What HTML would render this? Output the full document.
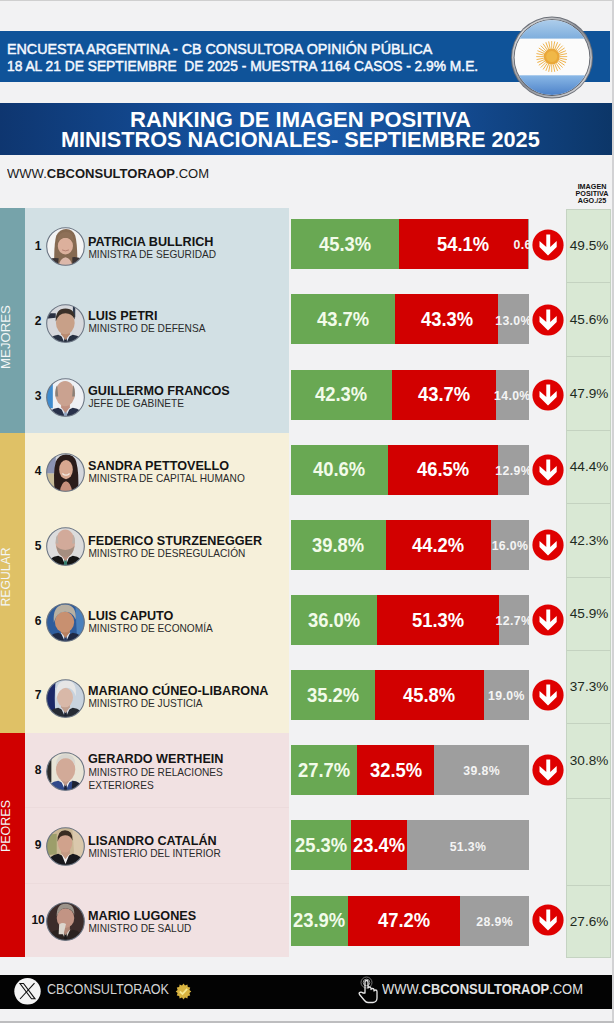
<!DOCTYPE html>
<html><head><meta charset="utf-8"><style>
html,body{margin:0;padding:0;}
body{width:614px;height:1023px;position:relative;overflow:hidden;background:#f2f2f3;font-family:"Liberation Sans",sans-serif;}
.t{position:absolute;line-height:1;white-space:pre;}
.a{position:absolute;}
</style></head><body>
<div class="a" style="left:0;top:0;width:614px;height:1px;background:#cfcfcf"></div>
<div class="a" style="left:612px;top:0;width:2px;height:1023px;background:#d2d2d4"></div>
<div class="a" style="left:0;top:1021px;width:614px;height:2px;background:#bdbdbf"></div>
<div class="a" style="left:0;top:30.5px;width:610px;height:51px;background:#0f5399"></div>
<div class="t" style="left:7.00px;top:41.38px;font-size:15.5px;font-weight:400;color:#f4f8ff;transform:scaleX(0.923);transform-origin:0 0;-webkit-text-stroke:0.5px #f4f8ff;">ENCUESTA ARGENTINA - CB CONSULTORA OPINIÓN PÚBLICA</div>
<div class="t" style="left:7.00px;top:58.10px;font-size:15.0px;font-weight:400;color:#f4f8ff;transform:scaleX(0.919);transform-origin:0 0;-webkit-text-stroke:0.5px #f4f8ff;">18 AL 21 DE SEPTIEMBRE  DE 2025 - MUESTRA 1164 CASOS - 2.9% M.E.</div>
<div class="a" style="left:0;top:103.3px;width:612px;height:51.5px;background:linear-gradient(90deg,#0e3670 0%,#1552a0 38%,#1a5aa8 52%,#134a90 75%,#0c3668 100%)"></div>
<div class="t" style="left:129.70px;top:108.20px;font-size:22.8px;font-weight:700;color:#ffffff;transform:scaleX(0.966);transform-origin:0 0;">RANKING DE IMAGEN POSITIVA</div>
<div class="t" style="left:61.40px;top:128.20px;font-size:22.8px;font-weight:700;color:#ffffff;transform:scaleX(0.952);transform-origin:0 0;">MINISTROS NACIONALES- SEPTIEMBRE 2025</div>
<div class="t" style="left:7.00px;top:167.00px;font-size:13.7px;font-weight:400;color:#1a1a1a;transform:scaleX(0.951);transform-origin:0 0;">WWW.<b>CBCONSULTORAOP</b>.COM</div>
<div class="t" style="left:592.00px;transform:translateX(-50%);top:182.91px;font-size:7.2px;font-weight:700;color:#111;">IMAGEN</div>
<div class="t" style="left:592.00px;transform:translateX(-50%);top:189.91px;font-size:7.2px;font-weight:700;color:#111;">POSITIVA</div>
<div class="t" style="left:592.00px;transform:translateX(-50%);top:196.91px;font-size:7.2px;font-weight:700;color:#111;">AGO./25</div>
<div class="a" style="left:0;top:208px;width:25px;height:224.5px;background:#76a3aa"></div>
<div class="a" style="left:25px;top:208px;width:263.5px;height:224.5px;background:#d2e0e4"></div>
<div class="t" style="left:5.8px;top:337px;font-size:13.2px;color:#f3f6f6;transform:translate(-50%,-50%) rotate(-90deg);transform-origin:50% 50%;">MEJORES</div>
<div class="a" style="left:0;top:432.5px;width:25px;height:300.0px;background:#dfc166"></div>
<div class="a" style="left:25px;top:432.5px;width:263.5px;height:300.0px;background:#f6f0da"></div>
<div class="t" style="left:5.8px;top:577px;font-size:12.2px;color:#f3f6f6;transform:translate(-50%,-50%) rotate(-90deg);transform-origin:50% 50%;">REGULAR</div>
<div class="a" style="left:0;top:732.5px;width:25px;height:224.70000000000005px;background:#d00000"></div>
<div class="a" style="left:25px;top:732.5px;width:263.5px;height:224.70000000000005px;background:#f1e1e2"></div>
<div class="t" style="left:5.8px;top:826px;font-size:12.5px;color:#f3f6f6;transform:translate(-50%,-50%) rotate(-90deg);transform-origin:50% 50%;">PEORES</div>
<div class="a" style="left:25px;top:806.5px;width:263.5px;height:1px;background:#ecdbdc"></div>
<div class="a" style="left:25px;top:882.5px;width:263.5px;height:1px;background:#ecdbdc"></div>
<div class="a" style="left:566px;top:208.7px;width:45px;height:749.3px;background:#d9e8d4;box-shadow:inset 1px 0 0 #c5d3c2, inset -1px 0 0 #c5d3c2, inset 0 1px 0 #c5d3c2, inset 0 -1px 0 #c5d3c2"></div>
<div class="a" style="left:567px;top:282px;width:43.5px;height:1px;background:#c4d2c0"></div>
<div class="a" style="left:567px;top:356px;width:43.5px;height:1px;background:#c4d2c0"></div>
<div class="a" style="left:567px;top:430px;width:43.5px;height:1px;background:#c4d2c0"></div>
<div class="a" style="left:567px;top:503px;width:43.5px;height:1px;background:#c4d2c0"></div>
<div class="a" style="left:567px;top:577px;width:43.5px;height:1px;background:#c4d2c0"></div>
<div class="a" style="left:567px;top:650px;width:43.5px;height:1px;background:#c4d2c0"></div>
<div class="a" style="left:567px;top:723px;width:43.5px;height:1px;background:#c4d2c0"></div>
<div class="a" style="left:567px;top:797.5px;width:43.5px;height:1px;background:#c4d2c0"></div>
<div class="a" style="left:567px;top:885px;width:43.5px;height:1px;background:#c4d2c0"></div>
<div class="a" style="left:291.0px;top:219.30px;width:107.81px;height:50px;background:#69a853"></div>
<div class="a" style="left:398.81px;top:219.30px;width:128.76px;height:50px;background:#d20000"></div>
<div class="a" style="left:527.57px;top:219.30px;width:1.43px;height:50px;background:#9e9e9e"></div>
<div class="t" style="left:344.91px;transform:translateX(-50%) scaleX(0.93);top:235.04px;font-size:19.8px;font-weight:700;color:#f2fbe9;">45.3%</div>
<div class="t" style="left:463.19px;transform:translateX(-50%) scaleX(0.93);top:235.04px;font-size:19.8px;font-weight:700;color:#ffffff;">54.1%</div>
<div class="t" style="left:528.29px;transform:translateX(-50%);top:239.39px;font-size:12.3px;font-weight:700;color:#f4f4f4;letter-spacing:0.35px;">0.6%</div>
<svg class="a" style="left:532.40px;top:228.50px" width="32" height="32" viewBox="0 0 32 32"><circle cx="16" cy="16" r="15.6" fill="#df0000"/><path d="M14.3 5.6 H18.2 V18 L24.7 12.1 V18 L16 26.5 L7.5 18 V12.1 L14.3 18 Z" fill="#fff"/></svg>
<div class="t" style="left:569.80px;top:239.04px;font-size:13.6px;font-weight:400;color:#1e2a1e;">49.5%</div>
<div class="t" style="left:38.10px;transform:translateX(-50%);top:239.94px;font-size:12.0px;font-weight:700;color:#111;">1</div>
<svg class="a" style="left:45.80px;top:226.60px" width="39" height="39" viewBox="0 0 40 40"><defs><clipPath id="av1"><circle cx="20" cy="20" r="19.3"/></clipPath></defs><g clip-path="url(#av1)"><rect x="-1" y="-1" width="42" height="42" fill="#f4f4f4"/><path d="M8.5 40 Q8 18 10.5 9 Q14 2 20.5 2 Q27.5 2 30 9 Q32.5 18 32 40 Z" fill="#866a52"/><path d="M2 33 Q8 31 13 32 L12 42 L2 42 Z" fill="#3c3434"/><path d="M27 31 Q35 30 40 36 L40 42 L27 42 Z" fill="#3c3434"/><path d="M13 42 Q13.5 32 20 31 Q26.5 32 27 42 Z" fill="#dcb8aa"/><ellipse cx="19.9" cy="19.5" rx="7.8" ry="8.6" fill="#dcb09c"/><path d="M11.5 15 Q12 5 20.5 5 Q28.5 5 28.5 15 Q25 11 20 11 Q15 11 11.5 15 Z" fill="#8e7058"/><path d="M16.5 23.5 Q20 25.5 23.5 23.5" stroke="#b07a6c" stroke-width="0.9" fill="none"/></g><circle cx="20" cy="20" r="19.3" fill="none" stroke="#6a7482" stroke-width="1.1"/></svg>
<div class="t" style="left:88.40px;top:234.50px;font-size:13.0px;font-weight:700;color:#141414;transform:scaleX(0.972);transform-origin:0 0;">PATRICIA BULLRICH</div>
<div class="t" style="left:88.40px;top:249.51px;font-size:10.15px;font-weight:400;color:#2a2a2a;">MINISTRA DE SEGURIDAD</div>
<div class="a" style="left:291.0px;top:294.44px;width:104.01px;height:50px;background:#69a853"></div>
<div class="a" style="left:395.01px;top:294.44px;width:103.05px;height:50px;background:#d20000"></div>
<div class="a" style="left:498.06px;top:294.44px;width:30.94px;height:50px;background:#9e9e9e"></div>
<div class="t" style="left:343.00px;transform:translateX(-50%) scaleX(0.93);top:310.18px;font-size:19.8px;font-weight:700;color:#f2fbe9;">43.7%</div>
<div class="t" style="left:446.53px;transform:translateX(-50%) scaleX(0.93);top:310.18px;font-size:19.8px;font-weight:700;color:#ffffff;">43.3%</div>
<div class="t" style="left:513.53px;transform:translateX(-50%);top:314.53px;font-size:12.3px;font-weight:700;color:#f4f4f4;letter-spacing:0.35px;">13.0%</div>
<svg class="a" style="left:532.40px;top:303.56px" width="32" height="32" viewBox="0 0 32 32"><circle cx="16" cy="16" r="15.6" fill="#df0000"/><path d="M14.3 5.6 H18.2 V18 L24.7 12.1 V18 L16 26.5 L7.5 18 V12.1 L14.3 18 Z" fill="#fff"/></svg>
<div class="t" style="left:569.80px;top:312.69px;font-size:13.6px;font-weight:400;color:#1e2a1e;">45.6%</div>
<div class="t" style="left:38.10px;transform:translateX(-50%);top:314.86px;font-size:12.0px;font-weight:700;color:#111;">2</div>
<svg class="a" style="left:45.80px;top:303.74px" width="39" height="39" viewBox="0 0 40 40"><defs><clipPath id="av2"><circle cx="20" cy="20" r="19.3"/></clipPath></defs><g clip-path="url(#av2)"><rect x="-1" y="-1" width="42" height="42" fill="#d6d8dc"/><path d="M0 9.5 L10 9.5 L10 14 L0 15 Z" fill="#2a3040"/><path d="M27.6 2 L30 2 L30 13.5 L27.6 13.5 Z" fill="#2e3a4c"/><path d="M-1 44 Q1 33 12.5 31.5 L20 35 L27.5 31.5 Q39 33 41 44 Z" fill="#283142"/><path d="M15 31 L20 42 L25 31 L20 34 Z" fill="#e0e3ea"/><path d="M19 34.5 L21 34.5 L22.3 44 L17.7 44 Z" fill="#1e2636"/><path d="M15.5 31 L20 37 L24.5 31 L24.5 27 L15.5 27 Z" fill="#b88a70"/><ellipse cx="19.8" cy="19.5" rx="9.6" ry="11.6" fill="#c8a088"/><path d="M10 18 Q9.5 4.5 20 4.5 Q30 4.5 29.5 16 Q26.5 9.5 20 9.5 Q13 9.5 10 18 Z" fill="#3a3028"/></g><circle cx="20" cy="20" r="19.3" fill="none" stroke="#6a7482" stroke-width="1.1"/></svg>
<div class="t" style="left:88.40px;top:309.44px;font-size:13.0px;font-weight:700;color:#141414;transform:scaleX(0.972);transform-origin:0 0;">LUIS PETRI</div>
<div class="t" style="left:88.40px;top:324.45px;font-size:10.15px;font-weight:400;color:#2a2a2a;">MINISTRO DE DEFENSA</div>
<div class="a" style="left:291.0px;top:369.58px;width:100.67px;height:50px;background:#69a853"></div>
<div class="a" style="left:391.67px;top:369.58px;width:104.01px;height:50px;background:#d20000"></div>
<div class="a" style="left:495.68px;top:369.58px;width:33.32px;height:50px;background:#9e9e9e"></div>
<div class="t" style="left:341.34px;transform:translateX(-50%) scaleX(0.93);top:385.32px;font-size:19.8px;font-weight:700;color:#f2fbe9;">42.3%</div>
<div class="t" style="left:443.68px;transform:translateX(-50%) scaleX(0.93);top:385.32px;font-size:19.8px;font-weight:700;color:#ffffff;">43.7%</div>
<div class="t" style="left:512.34px;transform:translateX(-50%);top:389.67px;font-size:12.3px;font-weight:700;color:#f4f4f4;letter-spacing:0.35px;">14.0%</div>
<svg class="a" style="left:532.40px;top:378.62px" width="32" height="32" viewBox="0 0 32 32"><circle cx="16" cy="16" r="15.6" fill="#df0000"/><path d="M14.3 5.6 H18.2 V18 L24.7 12.1 V18 L16 26.5 L7.5 18 V12.1 L14.3 18 Z" fill="#fff"/></svg>
<div class="t" style="left:569.80px;top:386.69px;font-size:13.6px;font-weight:400;color:#1e2a1e;">47.9%</div>
<div class="t" style="left:38.10px;transform:translateX(-50%);top:389.78px;font-size:12.0px;font-weight:700;color:#111;">3</div>
<svg class="a" style="left:45.80px;top:378.08px" width="39" height="39" viewBox="0 0 40 40"><defs><clipPath id="av3"><circle cx="20" cy="20" r="19.3"/></clipPath></defs><g clip-path="url(#av3)"><rect x="-1" y="-1" width="42" height="42" fill="#eef1f5"/><path d="M-1 5 L7 5 L7 31 L-1 31 Z" fill="#3f8ccf"/><path d="M-1 44 Q1 32 12.5 30.5 L20 34 L27.5 30.5 Q39 32 41 44 Z" fill="#28314a"/><path d="M15 30 L20 41 L25 30 L20 33 Z" fill="#dfe5ee"/><path d="M19 33.5 L21 33.5 L22.3 44 L17.7 44 Z" fill="#8fa3c0"/><path d="M15.5 30 L20 36 L24.5 30 L24.5 26 L15.5 26 Z" fill="#c09080"/><ellipse cx="19.6" cy="16" rx="10.2" ry="13" fill="#caa290"/><path d="M9.6 19 Q9.3 10 11.5 7.5 L12.5 19 Z M29.6 19 Q30 10 27.8 7.5 L26.8 19 Z" fill="#8a8078"/></g><circle cx="20" cy="20" r="19.3" fill="none" stroke="#6a7482" stroke-width="1.1"/></svg>
<div class="t" style="left:88.40px;top:384.38px;font-size:13.0px;font-weight:700;color:#141414;transform:scaleX(0.972);transform-origin:0 0;">GUILLERMO FRANCOS</div>
<div class="t" style="left:88.40px;top:399.39px;font-size:10.15px;font-weight:400;color:#2a2a2a;">JEFE DE GABINETE</div>
<div class="a" style="left:291.0px;top:444.72px;width:96.63px;height:50px;background:#69a853"></div>
<div class="a" style="left:387.63px;top:444.72px;width:110.67px;height:50px;background:#d20000"></div>
<div class="a" style="left:498.30px;top:444.72px;width:30.70px;height:50px;background:#9e9e9e"></div>
<div class="t" style="left:339.31px;transform:translateX(-50%) scaleX(0.93);top:460.46px;font-size:19.8px;font-weight:700;color:#f2fbe9;">40.6%</div>
<div class="t" style="left:442.96px;transform:translateX(-50%) scaleX(0.93);top:460.46px;font-size:19.8px;font-weight:700;color:#ffffff;">46.5%</div>
<div class="t" style="left:513.65px;transform:translateX(-50%);top:464.81px;font-size:12.3px;font-weight:700;color:#f4f4f4;letter-spacing:0.35px;">12.9%</div>
<svg class="a" style="left:532.40px;top:453.68px" width="32" height="32" viewBox="0 0 32 32"><circle cx="16" cy="16" r="15.6" fill="#df0000"/><path d="M14.3 5.6 H18.2 V18 L24.7 12.1 V18 L16 26.5 L7.5 18 V12.1 L14.3 18 Z" fill="#fff"/></svg>
<div class="t" style="left:569.80px;top:460.19px;font-size:13.6px;font-weight:400;color:#1e2a1e;">44.4%</div>
<div class="t" style="left:38.10px;transform:translateX(-50%);top:464.70px;font-size:12.0px;font-weight:700;color:#111;">4</div>
<svg class="a" style="left:45.80px;top:452.92px" width="39" height="39" viewBox="0 0 40 40"><defs><clipPath id="av4"><circle cx="20" cy="20" r="19.3"/></clipPath></defs><g clip-path="url(#av4)"><rect x="-1" y="-1" width="42" height="42" fill="#d3d6dc"/><path d="M-1 2 L10 2 L10 21 L-1 21 Z" fill="#8a92b2"/><path d="M-1 21 L10 21 L10 40 L-1 40 Z" fill="#c8bc98"/><path d="M9 40 Q7 20 10 9 Q13.5 1.5 20.5 1.5 Q29 1.5 31 9 Q34 20 33 40 Z" fill="#2a1c1a"/><path d="M14 42 Q15 30 20.5 29 Q26 30 27 42 Z" fill="#c8907c"/><ellipse cx="20.5" cy="17" rx="7" ry="9.8" fill="#d8a890"/><path d="M16.8 21 Q20.5 24.5 24.2 21" stroke="#f2e8e0" stroke-width="1.3" fill="none"/></g><circle cx="20" cy="20" r="19.3" fill="none" stroke="#6a7482" stroke-width="1.1"/></svg>
<div class="t" style="left:88.40px;top:459.32px;font-size:13.0px;font-weight:700;color:#141414;transform:scaleX(0.972);transform-origin:0 0;">SANDRA PETTOVELLO</div>
<div class="t" style="left:88.40px;top:474.33px;font-size:10.15px;font-weight:400;color:#2a2a2a;">MINISTRA DE CAPITAL HUMANO</div>
<div class="a" style="left:291.0px;top:519.86px;width:94.72px;height:50px;background:#69a853"></div>
<div class="a" style="left:385.72px;top:519.86px;width:105.20px;height:50px;background:#d20000"></div>
<div class="a" style="left:490.92px;top:519.86px;width:38.08px;height:50px;background:#9e9e9e"></div>
<div class="t" style="left:338.36px;transform:translateX(-50%) scaleX(0.93);top:535.60px;font-size:19.8px;font-weight:700;color:#f2fbe9;">39.8%</div>
<div class="t" style="left:438.32px;transform:translateX(-50%) scaleX(0.93);top:535.60px;font-size:19.8px;font-weight:700;color:#ffffff;">44.2%</div>
<div class="t" style="left:509.96px;transform:translateX(-50%);top:539.95px;font-size:12.3px;font-weight:700;color:#f4f4f4;letter-spacing:0.35px;">16.0%</div>
<svg class="a" style="left:532.40px;top:528.74px" width="32" height="32" viewBox="0 0 32 32"><circle cx="16" cy="16" r="15.6" fill="#df0000"/><path d="M14.3 5.6 H18.2 V18 L24.7 12.1 V18 L16 26.5 L7.5 18 V12.1 L14.3 18 Z" fill="#fff"/></svg>
<div class="t" style="left:569.80px;top:533.69px;font-size:13.6px;font-weight:400;color:#1e2a1e;">42.3%</div>
<div class="t" style="left:38.10px;transform:translateX(-50%);top:539.62px;font-size:12.0px;font-weight:700;color:#111;">5</div>
<svg class="a" style="left:45.80px;top:527.36px" width="39" height="39" viewBox="0 0 40 40"><defs><clipPath id="av5"><circle cx="20" cy="20" r="19.3"/></clipPath></defs><g clip-path="url(#av5)"><rect x="-1" y="-1" width="42" height="42" fill="#dcdcdc"/><path d="M-1 44 Q1 31 12.5 29.5 L20 33 L27.5 29.5 Q39 31 41 44 Z" fill="#151515"/><path d="M15.5 29 L20 40 L24.5 29 L20 32 Z" fill="#f0f0f0"/><path d="M19 32.5 L21 32.5 L22.3 44 L17.7 44 Z" fill="#2f7a6a"/><path d="M15.5 29 L20 35 L24.5 29 L24.5 25 L15.5 25 Z" fill="#b89080"/><ellipse cx="19.8" cy="16.5" rx="10" ry="14" fill="#d2aa9a"/><path d="M10.5 19 Q12 31 19.8 31 Q27.6 31 29.3 19 Q26 23.5 19.8 23.5 Q13.6 23.5 10.5 19 Z" fill="#a48e80"/><path d="M10 17 Q9.8 10 11.8 8 L12.8 17 Z M29.8 17 Q30 10 27.8 8 L26.8 17 Z" fill="#bcb0a8"/></g><circle cx="20" cy="20" r="19.3" fill="none" stroke="#6a7482" stroke-width="1.1"/></svg>
<div class="t" style="left:88.40px;top:534.26px;font-size:13.0px;font-weight:700;color:#141414;transform:scaleX(0.972);transform-origin:0 0;">FEDERICO STURZENEGGER</div>
<div class="t" style="left:88.40px;top:549.27px;font-size:10.15px;font-weight:400;color:#2a2a2a;">MINISTRO DE DESREGULACIÓN</div>
<div class="a" style="left:291.0px;top:595.00px;width:85.68px;height:50px;background:#69a853"></div>
<div class="a" style="left:376.68px;top:595.00px;width:122.09px;height:50px;background:#d20000"></div>
<div class="a" style="left:498.77px;top:595.00px;width:30.23px;height:50px;background:#9e9e9e"></div>
<div class="t" style="left:333.84px;transform:translateX(-50%) scaleX(0.93);top:610.74px;font-size:19.8px;font-weight:700;color:#f2fbe9;">36.0%</div>
<div class="t" style="left:437.73px;transform:translateX(-50%) scaleX(0.93);top:610.74px;font-size:19.8px;font-weight:700;color:#ffffff;">51.3%</div>
<div class="t" style="left:513.89px;transform:translateX(-50%);top:615.09px;font-size:12.3px;font-weight:700;color:#f4f4f4;letter-spacing:0.35px;">12.7%</div>
<svg class="a" style="left:532.40px;top:603.80px" width="32" height="32" viewBox="0 0 32 32"><circle cx="16" cy="16" r="15.6" fill="#df0000"/><path d="M14.3 5.6 H18.2 V18 L24.7 12.1 V18 L16 26.5 L7.5 18 V12.1 L14.3 18 Z" fill="#fff"/></svg>
<div class="t" style="left:569.80px;top:607.19px;font-size:13.6px;font-weight:400;color:#1e2a1e;">45.9%</div>
<div class="t" style="left:38.10px;transform:translateX(-50%);top:614.54px;font-size:12.0px;font-weight:700;color:#111;">6</div>
<svg class="a" style="left:45.80px;top:603.40px" width="39" height="39" viewBox="0 0 40 40"><defs><clipPath id="av6"><circle cx="20" cy="20" r="19.3"/></clipPath></defs><g clip-path="url(#av6)"><rect x="-1" y="-1" width="42" height="42" fill="#2e5c9c"/><path d="M30 0 L41 0 L41 40 L32 40 Z" fill="#4a80bc"/><path d="M-1 44 Q1 32 12.5 30.5 L20 34 L27.5 30.5 Q39 32 41 44 Z" fill="#1e2944"/><path d="M15 30 L20 41 L25 30 L20 33 Z" fill="#dfe4ee"/><path d="M19 33.5 L21 33.5 L22.3 44 L17.7 44 Z" fill="#2a3a60"/><path d="M15.5 30 L20 36 L24.5 30 L24.5 26 L15.5 26 Z" fill="#b88060"/><ellipse cx="19" cy="19.5" rx="9.9" ry="10.8" fill="#c89070"/><path d="M8 20 Q6.5 1.5 19.5 1.5 Q31.5 1.5 30.5 17 Q27 8.5 19 9 Q11 9.5 8 20 Z" fill="#b8b0a2"/></g><circle cx="20" cy="20" r="19.3" fill="none" stroke="#6a7482" stroke-width="1.1"/></svg>
<div class="t" style="left:88.40px;top:609.20px;font-size:13.0px;font-weight:700;color:#141414;transform:scaleX(0.972);transform-origin:0 0;">LUIS CAPUTO</div>
<div class="t" style="left:88.40px;top:624.21px;font-size:10.15px;font-weight:400;color:#2a2a2a;">MINISTRO DE ECONOMÍA</div>
<div class="a" style="left:291.0px;top:670.14px;width:83.78px;height:50px;background:#69a853"></div>
<div class="a" style="left:374.78px;top:670.14px;width:109.00px;height:50px;background:#d20000"></div>
<div class="a" style="left:483.78px;top:670.14px;width:45.22px;height:50px;background:#9e9e9e"></div>
<div class="t" style="left:332.89px;transform:translateX(-50%) scaleX(0.93);top:685.88px;font-size:19.8px;font-weight:700;color:#f2fbe9;">35.2%</div>
<div class="t" style="left:429.28px;transform:translateX(-50%) scaleX(0.93);top:685.88px;font-size:19.8px;font-weight:700;color:#ffffff;">45.8%</div>
<div class="t" style="left:506.39px;transform:translateX(-50%);top:690.23px;font-size:12.3px;font-weight:700;color:#f4f4f4;letter-spacing:0.35px;">19.0%</div>
<svg class="a" style="left:532.40px;top:678.86px" width="32" height="32" viewBox="0 0 32 32"><circle cx="16" cy="16" r="15.6" fill="#df0000"/><path d="M14.3 5.6 H18.2 V18 L24.7 12.1 V18 L16 26.5 L7.5 18 V12.1 L14.3 18 Z" fill="#fff"/></svg>
<div class="t" style="left:569.80px;top:680.19px;font-size:13.6px;font-weight:400;color:#1e2a1e;">37.3%</div>
<div class="t" style="left:38.10px;transform:translateX(-50%);top:689.46px;font-size:12.0px;font-weight:700;color:#111;">7</div>
<svg class="a" style="left:45.80px;top:679.04px" width="39" height="39" viewBox="0 0 40 40"><defs><clipPath id="av7"><circle cx="20" cy="20" r="19.3"/></clipPath></defs><g clip-path="url(#av7)"><rect x="-1" y="-1" width="42" height="42" fill="#c8d3df"/><path d="M-1 0 L10 0 Q8 20 10 40 L-1 40 Z" fill="#1b2868"/><path d="M-1 44 Q1 31 12.5 29.5 L20 33 L27.5 29.5 Q39 31 41 44 Z" fill="#262b34"/><path d="M15 29 L20 40 L25 29 L20 32 Z" fill="#d8dde6"/><path d="M19 32.5 L21 32.5 L22.3 44 L17.7 44 Z" fill="#1a2030"/><path d="M15.5 29 L20 35 L24.5 29 L24.5 25 L15.5 25 Z" fill="#c0a090"/><ellipse cx="19.5" cy="19" rx="8.2" ry="10" fill="#d8b8a8"/><path d="M10.5 20 Q9 1.5 21 1.5 Q32 1.5 30.5 18 Q28 8.5 20.5 9 Q13.5 9.5 10.5 20 Z" fill="#e6e6e6"/></g><circle cx="20" cy="20" r="19.3" fill="none" stroke="#6a7482" stroke-width="1.1"/></svg>
<div class="t" style="left:88.40px;top:684.14px;font-size:13.0px;font-weight:700;color:#141414;transform:scaleX(0.972);transform-origin:0 0;">MARIANO CÚNEO-LIBARONA</div>
<div class="t" style="left:88.40px;top:699.15px;font-size:10.15px;font-weight:400;color:#2a2a2a;">MINISTRO DE JUSTICIA</div>
<div class="a" style="left:291.0px;top:745.28px;width:65.93px;height:50px;background:#69a853"></div>
<div class="a" style="left:356.93px;top:745.28px;width:77.35px;height:50px;background:#d20000"></div>
<div class="a" style="left:434.28px;top:745.28px;width:94.72px;height:50px;background:#9e9e9e"></div>
<div class="t" style="left:323.96px;transform:translateX(-50%) scaleX(0.93);top:761.02px;font-size:19.8px;font-weight:700;color:#f2fbe9;">27.7%</div>
<div class="t" style="left:395.60px;transform:translateX(-50%) scaleX(0.93);top:761.02px;font-size:19.8px;font-weight:700;color:#ffffff;">32.5%</div>
<div class="t" style="left:481.64px;transform:translateX(-50%);top:765.37px;font-size:12.3px;font-weight:700;color:#f4f4f4;letter-spacing:0.35px;">39.8%</div>
<svg class="a" style="left:532.40px;top:753.92px" width="32" height="32" viewBox="0 0 32 32"><circle cx="16" cy="16" r="15.6" fill="#df0000"/><path d="M14.3 5.6 H18.2 V18 L24.7 12.1 V18 L16 26.5 L7.5 18 V12.1 L14.3 18 Z" fill="#fff"/></svg>
<div class="t" style="left:569.80px;top:753.94px;font-size:13.6px;font-weight:400;color:#1e2a1e;">30.8%</div>
<div class="t" style="left:38.10px;transform:translateX(-50%);top:764.38px;font-size:12.0px;font-weight:700;color:#111;">8</div>
<svg class="a" style="left:45.80px;top:751.58px" width="39" height="39" viewBox="0 0 40 40"><defs><clipPath id="av8"><circle cx="20" cy="20" r="19.3"/></clipPath></defs><g clip-path="url(#av8)"><rect x="-1" y="-1" width="42" height="42" fill="#e8e4d6"/><path d="M0 5 L5.5 5 L5.5 31 L0 31 Z" fill="#2a2a2a"/><path d="M-1 44 Q1 31 12.5 29.5 L20 33 L27.5 29.5 Q39 31 41 44 Z" fill="#30498a"/><path d="M15 29 L20 40 L25 29 L20 32 Z" fill="#f0f2f6"/><path d="M19 32.5 L21 32.5 L22.3 44 L17.7 44 Z" fill="#1a2440"/><path d="M27 29.5 Q37 30 41 44 L26 44 Z" fill="#1e2330"/><path d="M15.5 29 L20 35 L24.5 29 L24.5 25 L15.5 25 Z" fill="#c09a88"/><ellipse cx="20.1" cy="18" rx="9.9" ry="12.4" fill="#d2aa98"/><path d="M10.3 15 Q10 2 20.3 2 Q30.5 2 30 14 Q27 6.5 20.2 6.5 Q13 6.5 10.3 15 Z" fill="#d8d6d0"/></g><circle cx="20" cy="20" r="19.3" fill="none" stroke="#6a7482" stroke-width="1.1"/></svg>
<div class="t" style="left:88.40px;top:752.30px;font-size:13.0px;font-weight:700;color:#141414;transform:scaleX(0.972);transform-origin:0 0;">GERARDO WERTHEIN</div>
<div class="t" style="left:88.40px;top:768.41px;font-size:10.15px;font-weight:400;color:#2a2a2a;">MINISTRO DE RELACIONES</div>
<div class="t" style="left:88.40px;top:780.81px;font-size:10.15px;font-weight:400;color:#2a2a2a;">EXTERIORES</div>
<div class="a" style="left:291.0px;top:820.42px;width:60.21px;height:50px;background:#69a853"></div>
<div class="a" style="left:351.21px;top:820.42px;width:55.69px;height:50px;background:#d20000"></div>
<div class="a" style="left:406.91px;top:820.42px;width:122.09px;height:50px;background:#9e9e9e"></div>
<div class="t" style="left:321.11px;transform:translateX(-50%) scaleX(0.93);top:836.16px;font-size:19.8px;font-weight:700;color:#f2fbe9;">25.3%</div>
<div class="t" style="left:379.06px;transform:translateX(-50%) scaleX(0.93);top:836.16px;font-size:19.8px;font-weight:700;color:#ffffff;">23.4%</div>
<div class="t" style="left:467.95px;transform:translateX(-50%);top:840.51px;font-size:12.3px;font-weight:700;color:#f4f4f4;letter-spacing:0.35px;">51.3%</div>
<div class="t" style="left:38.10px;transform:translateX(-50%);top:839.30px;font-size:12.0px;font-weight:700;color:#111;">9</div>
<svg class="a" style="left:45.80px;top:827.42px" width="39" height="39" viewBox="0 0 40 40"><defs><clipPath id="av9"><circle cx="20" cy="20" r="19.3"/></clipPath></defs><g clip-path="url(#av9)"><rect x="-1" y="-1" width="42" height="42" fill="#cbb896"/><path d="M0 8 L11 7 L11 28 L0 29 Z" fill="#9c9e6a"/><path d="M27 0 L41 0 L41 30 L29 30 Z" fill="#dac8ac"/><path d="M-1 44 Q1 29 12.5 27.5 L20 31 L27.5 27.5 Q39 29 41 44 Z" fill="#18181c"/><path d="M15.5 27 L20 38 L24.5 27 L20 30 Z" fill="#f2f0f0"/><path d="M15.5 27 L20 33 L24.5 27 L24.5 23 L15.5 23 Z" fill="#c49a84"/><ellipse cx="19.5" cy="16.2" rx="7.4" ry="10" fill="#d0a28c"/><path d="M11.8 15 Q11.5 3.3 19.5 3.3 Q27.5 3.3 27.3 14 Q25 8.5 19.5 8.5 Q14 8.5 11.8 15 Z" fill="#3a2c22"/></g><circle cx="20" cy="20" r="19.3" fill="none" stroke="#6a7482" stroke-width="1.1"/></svg>
<div class="t" style="left:88.40px;top:834.02px;font-size:13.0px;font-weight:700;color:#141414;transform:scaleX(0.972);transform-origin:0 0;">LISANDRO CATALÁN</div>
<div class="t" style="left:88.40px;top:849.03px;font-size:10.15px;font-weight:400;color:#2a2a2a;">MINISTERIO DEL INTERIOR</div>
<div class="a" style="left:291.0px;top:895.56px;width:56.88px;height:50px;background:#69a853"></div>
<div class="a" style="left:347.88px;top:895.56px;width:112.34px;height:50px;background:#d20000"></div>
<div class="a" style="left:460.22px;top:895.56px;width:68.78px;height:50px;background:#9e9e9e"></div>
<div class="t" style="left:319.44px;transform:translateX(-50%) scaleX(0.93);top:911.30px;font-size:19.8px;font-weight:700;color:#f2fbe9;">23.9%</div>
<div class="t" style="left:404.05px;transform:translateX(-50%) scaleX(0.93);top:911.30px;font-size:19.8px;font-weight:700;color:#ffffff;">47.2%</div>
<div class="t" style="left:494.61px;transform:translateX(-50%);top:915.65px;font-size:12.3px;font-weight:700;color:#f4f4f4;letter-spacing:0.35px;">28.9%</div>
<svg class="a" style="left:532.40px;top:904.04px" width="32" height="32" viewBox="0 0 32 32"><circle cx="16" cy="16" r="15.6" fill="#df0000"/><path d="M14.3 5.6 H18.2 V18 L24.7 12.1 V18 L16 26.5 L7.5 18 V12.1 L14.3 18 Z" fill="#fff"/></svg>
<div class="t" style="left:569.80px;top:915.19px;font-size:13.6px;font-weight:400;color:#1e2a1e;">27.6%</div>
<div class="t" style="left:38.10px;transform:translateX(-50%);top:914.22px;font-size:12.0px;font-weight:700;color:#111;">10</div>
<svg class="a" style="left:45.80px;top:902.46px" width="39" height="39" viewBox="0 0 40 40"><defs><clipPath id="av10"><circle cx="20" cy="20" r="19.3"/></clipPath></defs><g clip-path="url(#av10)"><rect x="-1" y="-1" width="42" height="42" fill="#3c2c2a"/><path d="M-1 44 Q1 30 12.5 28.5 L20 32 L27.5 28.5 Q39 30 41 44 Z" fill="#2a2220"/><path d="M15 28 L20 39 L25 28 L20 31 Z" fill="#d6d0c8"/><path d="M19 31.5 L21 31.5 L22.3 44 L17.7 44 Z" fill="#1a1818"/><path d="M15.5 28 L20 34 L24.5 28 L24.5 24 L15.5 24 Z" fill="#b08878"/><ellipse cx="20" cy="16.5" rx="9" ry="10.2" fill="#c29484"/><path d="M11 15 Q10.5 1.7 20 1.7 Q29.5 1.7 29 13 Q26 6.5 20 6.5 Q14 6.5 11 15 Z" fill="#9c948a"/><path d="M13.5 23 Q17 20.5 20.5 22.5 L18 33 L13 33 Z" fill="#dcd6ce"/></g><circle cx="20" cy="20" r="19.3" fill="none" stroke="#6a7482" stroke-width="1.1"/></svg>
<div class="t" style="left:88.40px;top:908.96px;font-size:13.0px;font-weight:700;color:#141414;transform:scaleX(0.972);transform-origin:0 0;">MARIO LUGONES</div>
<div class="t" style="left:88.40px;top:923.97px;font-size:10.15px;font-weight:400;color:#2a2a2a;">MINISTRO DE SALUD</div>
<div class="a" style="left:0;top:975px;width:612px;height:34px;background:#030303"></div>
<svg class="a" style="left:13px;top:976.5px" width="29" height="29" viewBox="0 0 29 29"><circle cx="14.5" cy="14.3" r="13.2" fill="#f4f4f4"/>
<path d="M7 6.5 H10.5 L22 21.8 H18.5 Z" fill="none" stroke="#111" stroke-width="1.1"/><path d="M21.5 6.2 L7 22" stroke="#111" stroke-width="1.1"/></svg>
<div class="t" style="left:46.50px;top:982.31px;font-size:14.4px;font-weight:400;color:#d4d4d4;transform:scaleX(0.875);transform-origin:0 0;">CBCONSULTORAOK</div>
<svg class="a" style="left:175px;top:982.5px" width="17" height="17" viewBox="0 0 17 17">
<path d="M8.5 0.5 L10 2.4 L12.4 1.6 L12.8 4 L15.2 4.6 L14.4 7 L16.3 8.5 L14.4 10 L15.2 12.4 L12.8 13 L12.4 15.4 L10 14.6 L8.5 16.5 L7 14.6 L4.6 15.4 L4.2 13 L1.8 12.4 L2.6 10 L0.7 8.5 L2.6 7 L1.8 4.6 L4.2 4 L4.6 1.6 L7 2.4 Z" fill="#d9b440"/>
<path d="M4.8 8.5 L7.5 11 L12.2 5.8" stroke="#f6e890" stroke-width="1.8" fill="none"/></svg>
<svg class="a" style="left:357px;top:975px" width="24" height="30" viewBox="0 0 24 30">
<circle cx="9.5" cy="7.5" r="5.5" fill="none" stroke="#777" stroke-width="1"/><circle cx="9.5" cy="7.5" r="3.3" fill="none" stroke="#999" stroke-width="1"/>
<path d="M8 18 V7 Q8 5.5 9.5 5.5 Q11 5.5 11 7 V13 Q11 12 12.5 12 Q14 12 14 13.5 V14.5 Q14 13.5 15.5 13.5 Q17 13.5 17 15 V16 Q17 15 18.5 15 Q20 15 20 16.5 V23 Q20 27 16 27.5 H11 Q9 27.5 7.5 25.5 L2.5 19.5 Q1.5 18 3 17.3 Q4.5 16.6 6 18 Z" fill="none" stroke="#e8e8e8" stroke-width="1.3" stroke-linejoin="round"/></svg>
<div class="t" style="left:382.20px;top:982.13px;font-size:14.5px;font-weight:400;color:#e2e2e2;transform:scaleX(0.893);transform-origin:0 0;">WWW.<b>CBCONSULTORAOP</b>.COM</div>
<svg class="a" style="left:510px;top:16px" width="84" height="84" viewBox="0 0 84 84">
<defs><clipPath id="fc"><circle cx="42" cy="42" r="37.5"/></clipPath>
<linearGradient id="tb" x1="0" y1="0" x2="0" y2="1"><stop offset="0" stop-color="#b8d4ee"/><stop offset="1" stop-color="#7eaedd"/></linearGradient>
<linearGradient id="bb" x1="0" y1="0" x2="0" y2="1"><stop offset="0" stop-color="#8ab8e6"/><stop offset="1" stop-color="#3d74c2"/></linearGradient>
<linearGradient id="ring" x1="0" y1="0" x2="1" y2="1"><stop offset="0" stop-color="#f0f0f0"/><stop offset="0.5" stop-color="#8a8e96"/><stop offset="1" stop-color="#e8e8ea"/></linearGradient>
</defs>
<circle cx="42" cy="41.6" r="41" fill="#6c7078"/>
<circle cx="42" cy="41.6" r="40" fill="url(#ring)"/>
<circle cx="42" cy="41.6" r="38.3" fill="#5a5e66"/>
<g clip-path="url(#fc)" transform="translate(0,-0.4)">
<rect x="0" y="0" width="84" height="84" fill="#fbfbfb"/>
<rect x="0" y="0" width="84" height="23" fill="url(#tb)"/>
<rect x="0" y="59.7" width="84" height="25" fill="url(#bb)"/>
<g transform="translate(41.7,41)" stroke="#eeb24a" stroke-width="0.9">
<line x1="0" y1="-8" x2="0" y2="-15.5" transform="rotate(0.0)"/><line x1="0" y1="-8" x2="0" y2="-15.5" transform="rotate(11.25)"/><line x1="0" y1="-8" x2="0" y2="-15.5" transform="rotate(22.5)"/><line x1="0" y1="-8" x2="0" y2="-15.5" transform="rotate(33.75)"/><line x1="0" y1="-8" x2="0" y2="-15.5" transform="rotate(45.0)"/><line x1="0" y1="-8" x2="0" y2="-15.5" transform="rotate(56.25)"/><line x1="0" y1="-8" x2="0" y2="-15.5" transform="rotate(67.5)"/><line x1="0" y1="-8" x2="0" y2="-15.5" transform="rotate(78.75)"/><line x1="0" y1="-8" x2="0" y2="-15.5" transform="rotate(90.0)"/><line x1="0" y1="-8" x2="0" y2="-15.5" transform="rotate(101.25)"/><line x1="0" y1="-8" x2="0" y2="-15.5" transform="rotate(112.5)"/><line x1="0" y1="-8" x2="0" y2="-15.5" transform="rotate(123.75)"/><line x1="0" y1="-8" x2="0" y2="-15.5" transform="rotate(135.0)"/><line x1="0" y1="-8" x2="0" y2="-15.5" transform="rotate(146.25)"/><line x1="0" y1="-8" x2="0" y2="-15.5" transform="rotate(157.5)"/><line x1="0" y1="-8" x2="0" y2="-15.5" transform="rotate(168.75)"/><line x1="0" y1="-8" x2="0" y2="-15.5" transform="rotate(180.0)"/><line x1="0" y1="-8" x2="0" y2="-15.5" transform="rotate(191.25)"/><line x1="0" y1="-8" x2="0" y2="-15.5" transform="rotate(202.5)"/><line x1="0" y1="-8" x2="0" y2="-15.5" transform="rotate(213.75)"/><line x1="0" y1="-8" x2="0" y2="-15.5" transform="rotate(225.0)"/><line x1="0" y1="-8" x2="0" y2="-15.5" transform="rotate(236.25)"/><line x1="0" y1="-8" x2="0" y2="-15.5" transform="rotate(247.5)"/><line x1="0" y1="-8" x2="0" y2="-15.5" transform="rotate(258.75)"/><line x1="0" y1="-8" x2="0" y2="-15.5" transform="rotate(270.0)"/><line x1="0" y1="-8" x2="0" y2="-15.5" transform="rotate(281.25)"/><line x1="0" y1="-8" x2="0" y2="-15.5" transform="rotate(292.5)"/><line x1="0" y1="-8" x2="0" y2="-15.5" transform="rotate(303.75)"/><line x1="0" y1="-8" x2="0" y2="-15.5" transform="rotate(315.0)"/><line x1="0" y1="-8" x2="0" y2="-15.5" transform="rotate(326.25)"/><line x1="0" y1="-8" x2="0" y2="-15.5" transform="rotate(337.5)"/><line x1="0" y1="-8" x2="0" y2="-15.5" transform="rotate(348.75)"/>
</g>
<circle cx="41.7" cy="41" r="8" fill="#eaa83a"/>
<circle cx="41.7" cy="41" r="5.5" fill="#f0b848"/>
</g>
</svg>
</body></html>
